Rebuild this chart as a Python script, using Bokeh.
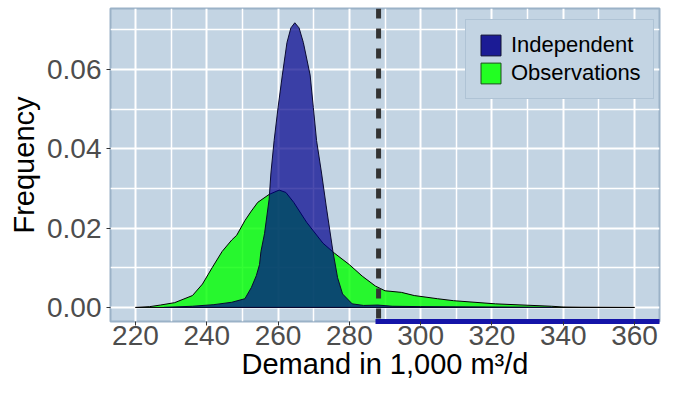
import math
from bokeh.plotting import figure
from bokeh.models import Range1d, FixedTicker, Span, Legend, LegendItem, LinearAxis
from bokeh.embed import file_html
from bokeh.resources import INLINE

# ---- data ----
obs_x = [220, 224, 227, 231, 236, 238.8, 241.5, 244.3, 247, 248.4, 250.7, 252.5, 254.3,
         257.5, 260.3, 262.2, 264.4, 268, 272.6, 275.8, 280, 283.6, 287.3, 290, 294.6,
         298.2, 304.7, 309.2, 321, 336.7, 340, 345, 360]
obs_d = [0, 0.0002, 0.0006, 0.0012, 0.0030, 0.0059, 0.0100, 0.0141, 0.0170, 0.0182, 0.0219,
         0.0243, 0.0265, 0.0285, 0.0296, 0.0290, 0.0265, 0.0215, 0.0162, 0.0137, 0.0108,
         0.0079, 0.0054, 0.0042, 0.0038, 0.0030, 0.0022, 0.0017, 0.0009, 0.0003, 0.0001,
         0.00005, 0]

ind_x = [228, 236, 242, 247, 250.7, 252.5, 253.9, 254.8, 255.2, 256.2, 257.5, 258.0, 258.9,
         260.0, 261.2, 262.5, 263.6, 264.7, 265.9, 267.1, 269.0, 269.9, 270.8, 272.2, 273.5,
         275.4, 276.7, 278.1, 280.8, 284, 288, 292, 300, 320, 337]
ind_d = [0, 0.0003, 0.0007, 0.0013, 0.0022, 0.0050, 0.0080, 0.0108, 0.0141, 0.0186, 0.0273,
         0.0339, 0.0421, 0.0504, 0.0586, 0.0668, 0.0705, 0.0718, 0.0705, 0.0668, 0.0586,
         0.0504, 0.0421, 0.0339, 0.0256, 0.0141, 0.0075, 0.0034, 0.0009, 0.0005, 0.0006,
         0.0003, 0.0002, 0.0001, 0]

threshold = 288.2
x_ticks = [220, 240, 260, 280, 300, 320, 340, 360]
x_minor = [230, 250, 270, 290, 310, 330, 350]
y_ticks = [0.0, 0.02, 0.04, 0.06]
y_minor = [0.01, 0.03, 0.05, 0.07]
y_tick_labels = {0.0: "0.00", 0.02: "0.02", 0.04: "0.04", 0.06: "0.06"}
series_names = ["Independent", "Observations"]

PANEL = "#c3d4e3"
BORDER = "#9bb2c7"
FONT = "Liberation Sans"

p = figure(width=661, height=383, output_backend="svg", toolbar_location=None,
           x_range=Range1d(213, 367), y_range=Range1d(-0.00355, 0.0754),
           min_border_left=110, min_border_right=2, min_border_top=8, min_border_bottom=62)
p.background_fill_color = PANEL
p.border_fill_color = "white"
p.outline_line_color = BORDER
p.outline_line_width = 2

xax = p.xaxis[0]
yax = p.yaxis[0]
xax.ticker = FixedTicker(ticks=x_ticks, minor_ticks=x_minor)
yax.ticker = FixedTicker(ticks=y_ticks, minor_ticks=y_minor)
yax.major_label_overrides = y_tick_labels
for ax in (xax, yax):
    ax.axis_line_color = None
    ax.major_tick_in = 0
    ax.major_tick_out = 4
    ax.major_tick_line_color = "#333333"
    ax.minor_tick_line_color = None
    ax.major_label_text_font = FONT
    ax.major_label_text_font_size = "28px"
    ax.major_label_text_color = "#4d4d4d"
    ax.axis_label_text_font = FONT
    ax.axis_label_text_font_size = "29px"
    ax.axis_label_text_font_style = "normal"
    ax.axis_label_text_color = "black"
xax.major_label_standoff = 0
xax.axis_label_standoff = 0
yax.major_label_standoff = 5
yax.axis_label_standoff = 4
xax.axis_label = "Demand in 1,000 m³/d"
yax.axis_label = "Frequency"

for g in (p.xgrid[0], p.ygrid[0]):
    g.grid_line_color = "white"
    g.grid_line_width = 2
    g.minor_grid_line_color = "white"
    g.minor_grid_line_width = 1.5

# densities
p.patch(x=obs_x, y=obs_d, fill_color="#00ff00", fill_alpha=0.8,
        line_color="black", line_width=1)
p.patch(x=ind_x, y=ind_d, fill_color="#00008b", fill_alpha=0.7,
        line_color="#0a0a30", line_width=1)

# threshold line
p.add_layout(Span(location=threshold, dimension="height", line_color="#333333",
                  line_width=5, line_dash="10 10"))

# blue exceedance bar along the bottom edge (an unlabeled axis limited by bounds)
blue_axis = LinearAxis(bounds=(threshold - 0.8, 380), ticker=FixedTicker(ticks=[]),
                       axis_line_color="#1414a8", axis_line_width=5,
                       major_tick_line_color=None, minor_tick_line_color=None,
                       major_tick_in=0, major_tick_out=0, minor_tick_in=0, minor_tick_out=0,
                       major_label_text_font_size="0px", major_label_standoff=0,
                       axis_label_standoff=0)
p.below = [blue_axis] + list(p.below)

# legend (renderers without visible marks, so the keys are solid)
nan = [math.nan]
k1 = p.quad(left=nan, right=nan, top=nan, bottom=nan, fill_color="#1b1b95", line_color="#111133")
k2 = p.quad(left=nan, right=nan, top=nan, bottom=nan, fill_color="#22ff22", line_color="#1d4d1d")
legend = Legend(items=[LegendItem(label=series_names[0], renderers=[k1]),
                       LegendItem(label=series_names[1], renderers=[k2])],
                location=(355, 222))
legend.label_text_font = FONT
legend.label_text_font_size = "22px"
legend.label_text_color = "black"
legend.glyph_width = 25
legend.glyph_height = 26
legend.label_height = 26
legend.label_standoff = 8
legend.spacing = 2
legend.padding = 12
legend.margin = 0
legend.border_line_color = BORDER
legend.border_line_width = 1.5
legend.background_fill_color = PANEL
legend.background_fill_alpha = 1
p.add_layout(legend)

open("out.html", "w").write(file_html(p, INLINE))
